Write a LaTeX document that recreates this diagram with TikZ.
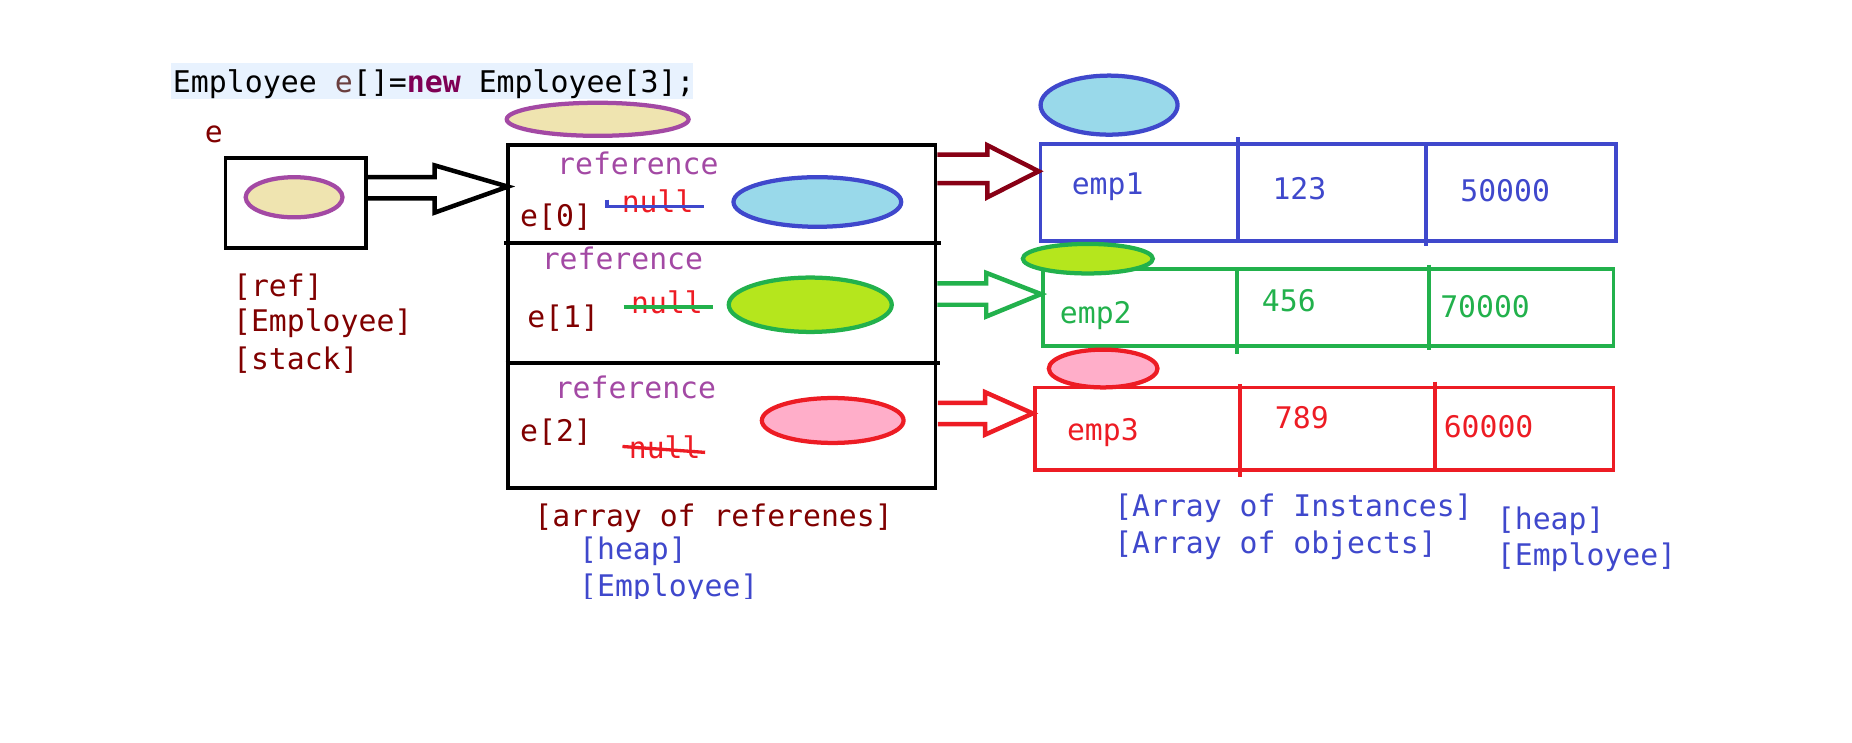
\documentclass[tikz,border=0pt]{standalone}
\usepackage{fontspec}
\setmonofont{DejaVu Sans Mono}
\usetikzlibrary{shapes.geometric}
\definecolor{codebg}{HTML}{E8F2FE}
\definecolor{codevar}{HTML}{6A3E3E}
\definecolor{codekw}{HTML}{7F0055}
\definecolor{txtred}{HTML}{800000}
\definecolor{ppurple}{HTML}{A349A4}
\definecolor{ptan}{HTML}{EFE4B0}
\definecolor{pltblue}{HTML}{99D9EA}
\definecolor{pblue}{HTML}{3F48CC}
\definecolor{plime}{HTML}{B5E61D}
\definecolor{pgreen}{HTML}{22B14C}
\definecolor{ppink}{HTML}{FFAEC9}
\definecolor{pred}{HTML}{ED1C24}
\definecolor{pdkred}{HTML}{880015}
\begin{document}
\begin{tikzpicture}[x=0.5pt,y=-0.5pt,
  txt/.style={font=\ttfamily\fontsize{12.6}{14}\selectfont, inner sep=0pt, anchor=base west},
  ctxt/.style={txt, anchor=base},
  blk/.style={line width=1.6pt, draw=black},
  ell/.style={ellipse, line width=1.8pt, inner sep=0pt},
  hollow/.style={line width=1.9pt, fill=white, line join=miter},
  strike/.style={line width=1.4pt}]
\useasboundingbox (0,0) rectangle (1568,629);

% code line
\fill[codebg] (145,53) rectangle (587,84);
\node[txt, font=\ttfamily\fontsize{12.65}{15}\selectfont] (code) at (146,78)
  {Employee \textcolor{codevar}{e}[]=\textcolor{codekw}{\bfseries new} Employee[3];};

% stack variable e
\node[txt, text=txtred] (elab) at (173,121) {e};
\node[blk, rectangle, minimum width=59.5pt, minimum height=38pt, inner sep=0pt] (ebox) at (250.5,172) {};
\node[ell, draw=ppurple, fill=ptan, minimum width=41pt, minimum height=17pt] (eref) at (249,167) {};
\node[txt, text=txtred] (l1) at (197,251) {[ref]};
\node[txt, text=txtred] (l2) at (197,281) {[Employee]};
\node[txt, text=txtred] (l3) at (197,313) {[stack]};

% array of references
\node[ell, draw=ppurple, fill=ptan, minimum width=77pt, minimum height=14pt] (aref) at (506,101) {};
\node[blk, rectangle, minimum width=181pt, minimum height=145pt, inner sep=0pt] (arr) at (611,268) {};
\draw[blk] (427,206) -- (797,206);
\draw[blk] (428,307) -- (796,307);

% black arrow e -> array
\draw[hollow] (ebox.east |- 0,150) -- (368,150) -- (368,140) -- (430,158) -- (368,180) -- (368,168) -- (ebox.east |- 0,168);

% row 0
\node[ctxt, text=ppurple] (r0) at (540,148) {reference};
\node[txt, text=txtred] (i0) at (440,192) {e[0]};
\node[txt, text=pred] (n0) at (526,180) {null};
\draw[strike, pblue] (514,169) -- (514,175) -- (596,175);
\node[ell, draw=pblue, fill=pltblue, minimum width=71pt, minimum height=21pt] (o0) at (692,171) {};
% row 1
\node[ctxt, text=ppurple] (r1) at (527,228) {reference};
\node[txt, text=txtred] (i1) at (446,277) {e[1]};
\node[txt, text=pred] (n1) at (534,265) {null};
\draw[strike, pgreen] (528,260) -- (604,260);
\node[ell, draw=pgreen, fill=plime, minimum width=69pt, minimum height=23pt] (o1) at (686,258) {};
% row 2
\node[ctxt, text=ppurple] (r2) at (538,337) {reference};
\node[txt, text=txtred] (i2) at (440,374) {e[2]};
\node[txt, text=pred] (n2) at (532,388) {null};
\draw[strike, pred] (527,378) -- (597,383);
\node[ell, draw=pred, fill=ppink, minimum width=60pt, minimum height=19pt] (o2) at (705,356) {};

\node[txt, text=txtred] (al) at (452,446) {[array of referenes]};
\node[txt, text=pblue] (ah) at (490,474) {[heap]};
\begin{scope}
\clip (400,480) rectangle (800,507);
\node[txt, text=pblue] (ae) at (490,505) {[Employee]};
\end{scope}

% employee objects
\node[ell, draw=pblue, fill=pltblue, minimum width=58pt, minimum height=25pt] (t0) at (939,89) {};
\node[rectangle, draw=pblue, line width=1.6pt, minimum width=243.5pt, minimum height=41pt, inner sep=0pt] (b0) at (1124.5,163) {};
\draw[pblue, line width=1.6pt] (1048,116) -- (1048,206);
\draw[pblue, line width=1.6pt] (1207,122) -- (1207,208);
\node[txt, text=pblue] at (907,165) {emp1};
\node[txt, text=pblue] at (1077,169) {123};
\node[txt, text=pblue] at (1236,171) {50000};

\node[rectangle, draw=pgreen, line width=1.6pt, minimum width=241.5pt, minimum height=32.5pt, inner sep=0pt] (b1) at (1124.5,260.5) {};
\draw[pgreen, line width=1.6pt] (1047,228) -- (1047,300);
\draw[pgreen, line width=1.6pt] (1210,224) -- (1210,296);
\node[ell, draw=pgreen, fill=plime, minimum width=55pt, minimum height=12.5pt] (t1) at (921,219) {};
\node[txt, text=pgreen] at (897,274) {emp2};
\node[txt, text=pgreen] at (1068,264) {456};
\node[txt, text=pgreen] at (1219,269) {70000};

\node[rectangle, draw=pred, line width=1.6pt, minimum width=245pt, minimum height=35pt, inner sep=0pt] (b2) at (1121,363) {};
\draw[pred, line width=1.6pt] (1050,325) -- (1050,404);
\draw[pred, line width=1.6pt] (1215,323) -- (1215,400);
\node[ell, draw=pred, fill=ppink, minimum width=46pt, minimum height=16pt] (t2) at (934,312) {};
\node[txt, text=pred] at (903,373) {emp3};
\node[txt, text=pred] at (1079,363) {789};
\node[txt, text=pred] at (1222,370) {60000};

% colored arrows array -> objects
\draw[hollow, draw=pdkred] (arr.east |- 0,131) -- (836,131) -- (836,123) -- (b0.west |- 0,145) -- (836,167) -- (836,155) -- (arr.east |- 0,155);
\draw[hollow, draw=pgreen] (arr.east |- 0,240) -- (835,240) -- (835,231) -- (b1.west |- 0,249) -- (835,268) -- (835,258) -- (arr.east |- 0,258);
\draw[hollow, draw=pred] (794,341) -- (834,341) -- (834,332) -- (b2.west |- 0,350) -- (834,368) -- (834,359) -- (794,359);

\node[txt, text=pblue] at (943,437) {[Array of Instances]};
\node[txt, text=pblue] at (943,469) {[Array of objects]};
\node[txt, text=pblue] at (1267,448) {[heap]};
\node[txt, text=pblue] at (1267,479) {[Employee]};
\end{tikzpicture}
\end{document}
